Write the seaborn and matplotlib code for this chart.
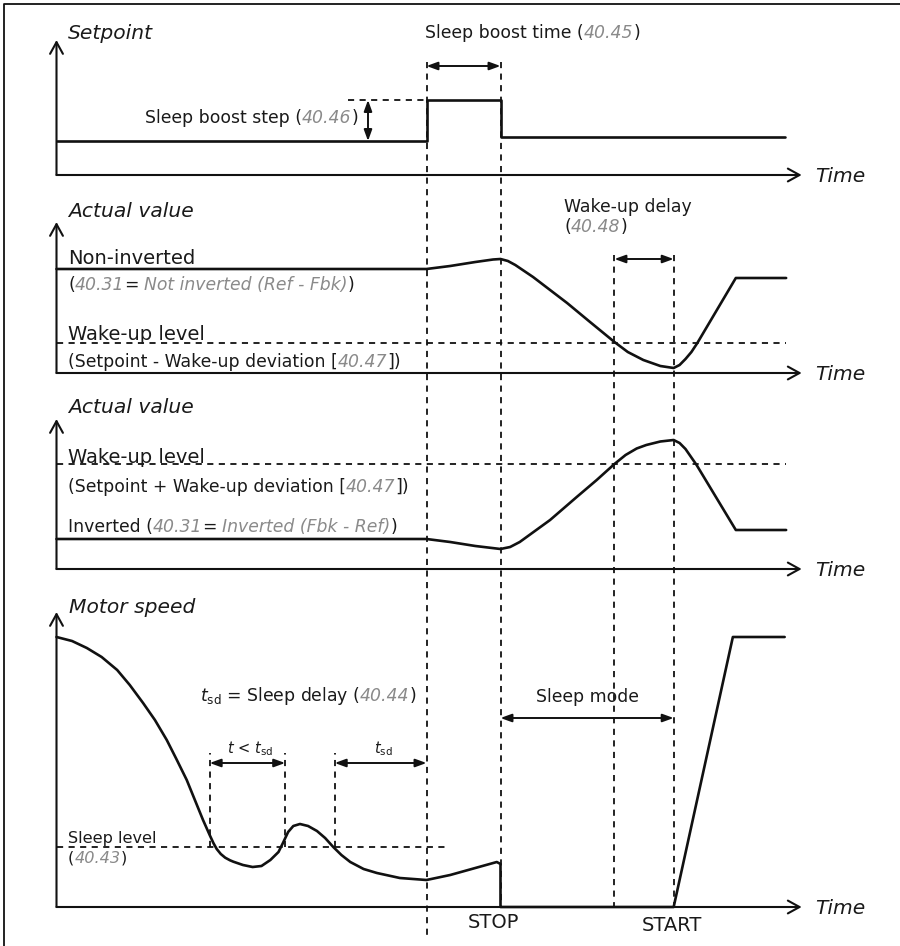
import matplotlib
matplotlib.use("Agg")
import matplotlib.pyplot as plt
import seaborn as sns
import pandas as pd
from matplotlib.transforms import offset_copy

# ---------------- data (time units, value = level above each time axis) ----------------
T_BOOST = 50.0      # sleep boost starts
T_STOP = 60.0       # stop (end of boost)
T_WAKE = 75.4       # actual value crosses wake-up level
T_START = 83.4      # start after wake-up delay
T_AXIS = 100.7      # end of time axes

setpoint_t = [0, 50, 50, 60, 60, 98.5]
setpoint_v = [34, 34, 75, 75, 38, 38]
boost_step_v = 75

noninv_t = [0, 50, 53.2, 56.6, 59.0, 60, 61.0, 62.0, 64.4, 69.0, 72.1, 75.4, 77.2, 79.3, 81.6, 83.4,
            84.2, 85.0, 85.8, 86.6, 89.0, 91.8, 98.6]
noninv_v = [104, 104, 107, 111, 113.5, 114, 112, 108, 96, 70, 51, 31, 21, 13, 7, 5,
            8, 14, 21, 30, 60, 95, 95]
wake_level_noninv = 30

inv_t = [0, 50, 53.2, 56.6, 60, 61.3, 62.6, 66.7, 70.3, 73.0, 75.4, 76.9, 78.4, 79.7, 81.6, 83.4,
         84.2, 85.0, 86.5, 91.8, 98.6]
inv_v = [30, 30, 27, 23, 20, 22, 27, 49, 72, 89, 105, 114, 120.5, 124, 127.5, 129,
         126, 120, 104, 39, 39]
wake_level_inv = 105

motor_t = [0, 2.1, 4.1, 6.1, 8.2, 9.9, 11.7, 13.3, 14.9, 16.2,
           17.6, 18.7, 19.8, 20.7, 21.2, 21.65, 22.2, 22.8, 23.45, 23.9,
           25.2, 26.5, 27.7, 28.9, 30.0, 30.6, 31.3, 32.0, 32.9, 34.0,
           35.2, 36.3, 37.4, 38.5, 39.7, 41.5, 43.3, 46.4, 50.0, 53.2,
           59.5, 60.0, 60.0, 83.4, 91.4, 98.4]
motor_v = [270, 266, 259, 250, 237, 222, 204, 187, 167, 148,
           127, 107, 87, 72, 64, 58, 53, 49.3, 46.7, 45.3,
           42, 40, 41, 47, 55, 64, 75, 81, 83, 81,
           76, 69, 60, 52, 45, 38, 34, 29, 27, 32,
           45, 43, 0, 0, 270, 270]
sleep_level = 60
sleep_level_end = 52.5
tsd_marks = [20.7, 30.9, 37.6]   # dashed markers of the delay intervals

# ---------------- style ----------------
sns.set_theme(style="white")
plt.rcParams["font.family"] = ["DejaVu Sans"]
plt.rcParams["mathtext.fontset"] = "dejavusans"

INK = "#111111"
TXT = "#1a1a1a"
GREY = "#8a8a8a"
LW_CURVE = 1.9
LW_AXIS = 1.5
LW_DASH = 1.3
DASH = (0, (3.4, 3.0))
BIG = 14.0
SMALL = 12.4
LABEL = 14.6
TINY = 10.5
LEVEL = 11.6

W, H = 900, 946
fig = plt.figure(figsize=(W / 100, H / 100), dpi=100)
fig.patch.set_facecolor("white")
R = fig.canvas.get_renderer()


def T(px):
    """horizontal layout position (pixels) -> time units"""
    return (px - 56.5) / 7.4


XLIM = (T(0), T(W))

STY = {
    "n": dict(color=TXT),
    "i": dict(color=TXT, fontstyle="italic"),
    "g": dict(color=GREY, fontstyle="italic"),
}


def width(s, size, style):
    t = fig.text(0, 0, s, fontsize=size, **STY[style])
    w = t.get_window_extent(renderer=R).width
    t.remove()
    return w


def rich(ax, x, y, parts, size, ha="left"):
    sp = width("n n", size, "n") - width("nn", size, "n")
    items = []
    for s, style in parts:
        lead = len(s) - len(s.lstrip(" "))
        trail = len(s) - len(s.rstrip(" "))
        core = s.strip(" ")
        w = width(core, size, style) if core else 0
        items.append((core, style, lead * sp, w, trail * sp))
    total = sum(a + b + c for _, _, a, b, c in items)
    cum = {"left": 0, "center": -total / 2, "right": -total}[ha]
    for core, style, lead, w, trail in items:
        cum += lead
        if core:
            ax.text(x, y, core, fontsize=size, ha="left", va="baseline", clip_on=False,
                    transform=offset_copy(ax.transData, fig=fig, x=cum, y=0, units="dots"),
                    **STY[style])
        cum += w + trail


def panel(axis_px):
    ax = fig.add_axes([0, 0, 1, 1])
    ax.set_xlim(*XLIM)
    ax.set_ylim(axis_px - H, axis_px)
    ax.axis("off")
    ax.patch.set_alpha(0)
    return ax


def axes_arrows(ax, ytip):
    ap = dict(arrowstyle="->,head_length=0.6,head_width=0.33", mutation_scale=14,
              lw=LW_AXIS, color=INK, shrinkA=0, shrinkB=0)
    ax.annotate("", xy=(0, ytip), xytext=(0, 0), arrowprops=ap)
    ax.annotate("", xy=(T_AXIS, 0), xytext=(0, 0), arrowprops=ap)
    rich(ax, T(815.5), -7, [("Time", "i")], LABEL)


def dbl(ax, p1, p2):
    ax.annotate("", xy=p2, xytext=p1,
                arrowprops=dict(arrowstyle="<|-|>,head_length=0.55,head_width=0.2",
                                mutation_scale=12, lw=1.4, color=INK,
                                shrinkA=0, shrinkB=0))


def curve(ax, t, v):
    df = pd.DataFrame({"t": t, "v": v})
    sns.lineplot(data=df, x="t", y="v", ax=ax, sort=False, estimator=None,
                 color=INK, linewidth=LW_CURVE)
    ax.set_xlim(*XLIM)


# overlay in pixel-y for border and event guides
ov = fig.add_axes([0, 0, 1, 1])
ov.set_xlim(*XLIM)
ov.set_ylim(H, 0)
ov.axis("off")
ov.patch.set_alpha(0)
ov.plot([T(4), T(4), T(W)], [H, 4, 4], color=INK, lw=1.3, solid_capstyle="butt")
for t_ev, y0, y1 in [(T_BOOST, 62, 935), (T_STOP, 62, 907), (T_WAKE, 255, 907), (T_START, 255, 907)]:
    ov.plot([t_ev, t_ev], [y0, y1], color=INK, lw=LW_DASH, linestyle=DASH)

# ---------------- panel 1: setpoint ----------------
ax1 = panel(175)
curve(ax1, setpoint_t, setpoint_v)
ax1.set_ylim(175 - H, 175)
axes_arrows(ax1, 135)
ax1.plot([T(348), T_BOOST], [boost_step_v, boost_step_v], color=INK, lw=LW_DASH, linestyle=DASH)
dbl(ax1, (T(368), setpoint_v[0]), (T(368), boost_step_v))
dbl(ax1, (T_BOOST, 109), (T_STOP, 109))
rich(ax1, T(68), 135.7, [("Setpoint", "i")], LABEL)
rich(ax1, T(358), 52.3, [("Sleep boost step (", "n"), ("40.46", "g"), (")", "n")], SMALL, ha="right")
rich(ax1, T(425), 137.3, [("Sleep boost time (", "n"), ("40.45", "g"), (")", "n")], SMALL)

# ---------------- panel 2: actual value, non-inverted ----------------
ax2 = panel(373)
curve(ax2, noninv_t, noninv_v)
ax2.set_ylim(373 - H, 373)
axes_arrows(ax2, 151)
ax2.plot([0, 98.6], [wake_level_noninv] * 2, color=INK, lw=LW_DASH, linestyle=DASH)
dbl(ax2, (T_WAKE, 114), (T_START, 114))
rich(ax2, T(68), 156.3, [("Actual value", "i")], LABEL)
rich(ax2, T(68), 109, [("Non-inverted", "n")], BIG)
rich(ax2, T(68), 83, [("(", "n"), ("40.31", "g"), ("= ", "n"),
                      ("Not inverted (Ref - Fbk)", "g"), (")", "n")], SMALL)
rich(ax2, T(68), 33, [("Wake-up level", "n")], BIG)
rich(ax2, T(68), 6.3, [("(Setpoint - Wake-up deviation [", "n"), ("40.47", "g"), ("])", "n")], SMALL)
rich(ax2, T(564.3), 161.3, [("Wake-up delay", "n")], SMALL)
rich(ax2, T(564.3), 141.3, [("(", "n"), ("40.48", "g"), (")", "n")], SMALL)

# ---------------- panel 3: actual value, inverted ----------------
ax3 = panel(569)
curve(ax3, inv_t, inv_v)
ax3.set_ylim(569 - H, 569)
axes_arrows(ax3, 150)
ax3.plot([0, 98.6], [wake_level_inv] * 2, color=INK, lw=LW_DASH, linestyle=DASH)
rich(ax3, T(68), 155.7, [("Actual value", "i")], LABEL)
rich(ax3, T(68), 106.3, [("Wake-up level", "n")], BIG)
rich(ax3, T(68), 77.3, [("(Setpoint + Wake-up deviation [", "n"), ("40.47", "g"), ("])", "n")], SMALL)
rich(ax3, T(68), 37.3, [("Inverted (", "n"), ("40.31", "g"), ("= ", "n"),
                        ("Inverted (Fbk - Ref)", "g"), (")", "n")], SMALL)

# ---------------- panel 4: motor speed ----------------
ax4 = panel(907)
curve(ax4, motor_t, motor_v)
ax4.set_ylim(907 - H, 907)
axes_arrows(ax4, 295)
ax4.plot([0, sleep_level_end], [sleep_level] * 2, color=INK, lw=LW_DASH, linestyle=DASH)
for tm in tsd_marks:
    ax4.plot([tm, tm], [sleep_level, 154], color=INK, lw=LW_DASH, linestyle=DASH)
dbl(ax4, (tsd_marks[0], 144), (tsd_marks[1], 144))
dbl(ax4, (tsd_marks[2], 144), (T_BOOST, 144))
dbl(ax4, (T_STOP, 189), (T_START, 189))
rich(ax4, T(69), 294.3, [("Motor speed", "i")], LABEL)
rich(ax4, T(200), 206.3, [(r"$t_{\mathrm{sd}}$ = Sleep delay (", "n"), ("40.44", "g"), (")", "n")], SMALL)
rich(ax4, T(250), 153.7, [(r"$t$ < $t_{\mathrm{sd}}$", "n")], TINY, ha="center")
rich(ax4, T(383), 153.7, [(r"$t_{\mathrm{sd}}$", "n")], TINY, ha="center")
rich(ax4, T(68), 63.7, [("Sleep level", "n")], LEVEL)
rich(ax4, T(68), 44.3, [("(", "n"), ("40.43", "g"), (")", "n")], LEVEL)
rich(ax4, T(587), 205.3, [("Sleep mode", "n")], SMALL, ha="center")
rich(ax4, T(493), -21.3, [("STOP", "n")], BIG, ha="center")
rich(ax4, T(672), -23.7, [("START", "n")], BIG, ha="center")

fig.savefig("out.png", dpi=100, facecolor="white")
